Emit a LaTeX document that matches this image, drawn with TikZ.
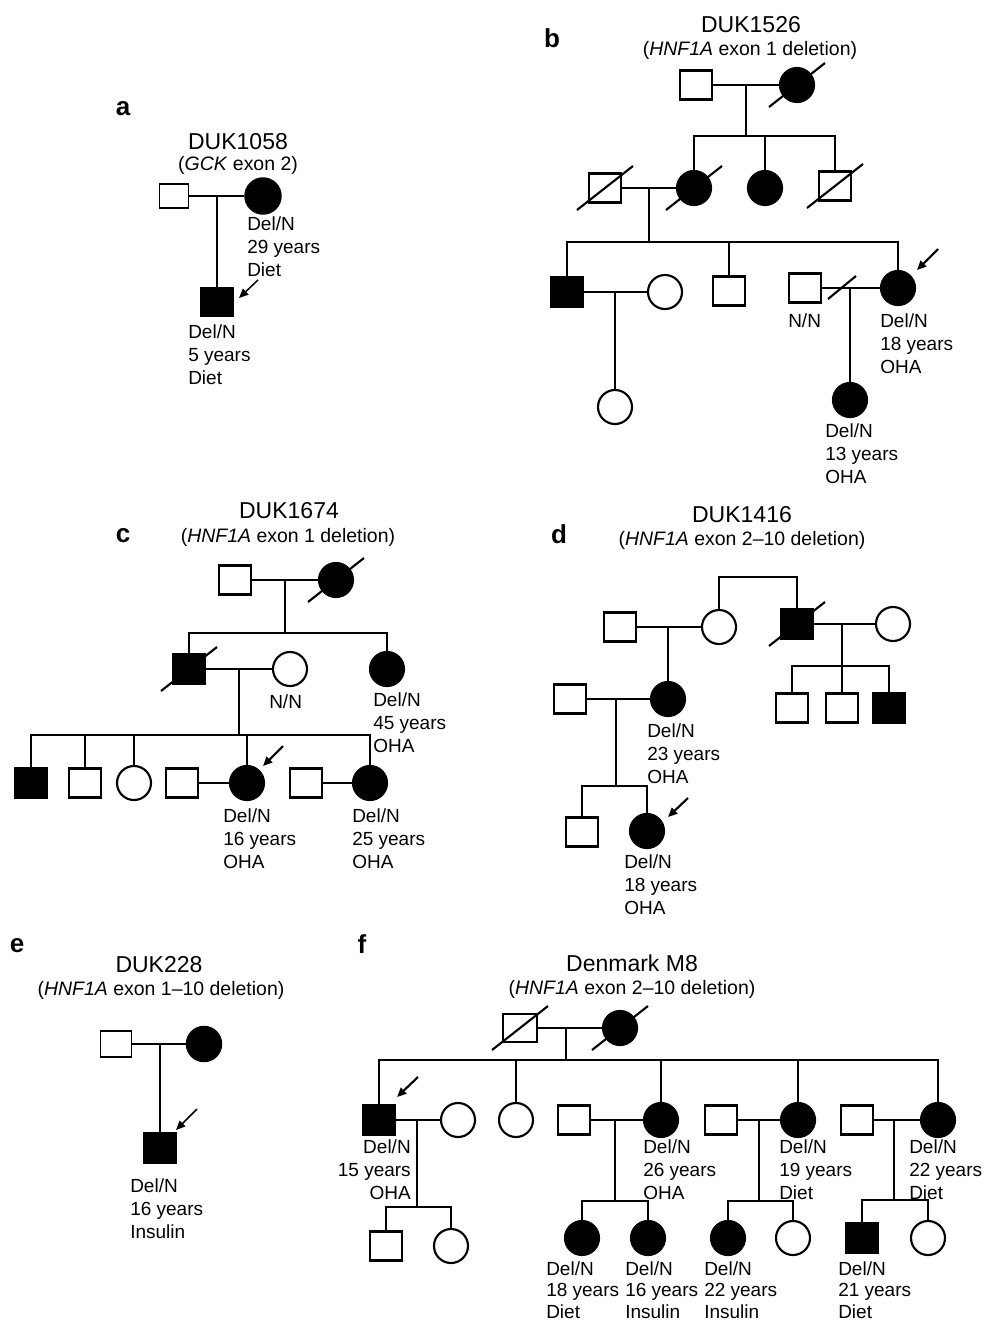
\documentclass[tikz,border=0pt]{standalone}
\usepackage{fontspec}
\setmainfont{Liberation Sans}
\usetikzlibrary{arrows.meta}
\newcommand\labfont{\fontsize{14.25pt}{17.25pt}\selectfont}
\newcommand\labfontB{\fontsize{14.25pt}{16.2pt}\selectfont}
\newcommand\ttlfont{\fontsize{17.25pt}{20pt}\selectfont}
\newcommand\subfont{\fontsize{14.6pt}{17pt}\selectfont}
\newcommand\letfont{\fontsize{19.5pt}{22pt}\selectfont\bfseries}
\newcommand\deceased[1]{\draw ([shift={(-28,22)}]#1.center) -- ([shift={(28,-22)}]#1.center);}
\tikzset{
  sq/.style={draw, rectangle, fill=white, minimum width=24pt, minimum height=21.75pt, inner sep=0pt},
  sqA/.style={sq, fill=black},
  ci/.style={draw, circle, fill=white, minimum size=25.5pt, inner sep=0pt},
  ciA/.style={ci, fill=black},
  lab/.style={font=\labfont, align=left, anchor=north west, inner sep=0pt},
  labB/.style={lab, font=\labfontB},
  labR/.style={lab, align=right, anchor=north east},
  ttl/.style={font=\ttlfont, anchor=base, inner sep=0pt},
  subt/.style={font=\subfont, anchor=base, inner sep=0pt},
  pletter/.style={font=\letfont, anchor=base, inner sep=0pt},
  prob/.style={-{Triangle[length=7pt 0 0,width=6pt 0 0]}},
  thickped/.style={line width=1.6pt},
  thinped/.style={line width=1.1pt}
}
\begin{document}
\begin{tikzpicture}[x=0.75pt,y=-0.75pt]
\useasboundingbox (0,0) rectangle (992,1322);

% ---------------- panel a ----------------
\node[pletter] (aL) at (123,115) {a};
\node[ttl] (aT) at (238,149) {DUK1058};
\node[subt] (aS) at (238,170) {(\textit{GCK} exon 2)};
\begin{scope}[thinped]
\node[sq, minimum width=21.75pt, minimum height=18pt] (aF) at (174,196) {};
\node[ciA, minimum size=27pt] (aM) at (263,196) {};
\node[sqA, minimum width=24.75pt, minimum height=21pt] (aC) at (217,302) {};
\coordinate (am) at (217,196);
\draw (aF.east) -- (aM.west);
\draw (am) -- (aC.north);
\coordinate (aP1) at (258,280);
\coordinate (aP2) at (239,298);
\draw[prob] (aP1) -- (aP2);
\end{scope}
\node[lab] (aML) at (247,216) {Del/N\\29 years\\Diet};
\node[lab] (aCL) at (188,324) {Del/N\\5 years\\Diet};

% ---------------- panel b ----------------
\node[pletter] (bL) at (552,47) {b};
\node[ttl] (bT) at (751,32) {DUK1526};
\node[subt] (bS) at (750,55) {(\textit{HNF1A} exon 1 deletion)};
\begin{scope}[thickped]
\node[sq] (bGF) at (696,85) {};
\node[ciA] (bGM) at (797,85) {};
\coordinate (bm1) at (746,85);
\coordinate (bs1) at (746,136);
\draw (bGF.east) -- (bGM.west);
\draw (bm1) -- (bs1);
\node[ciA] (bA) at (694,188) {};
\node[ciA] (bB) at (765,188) {};
\node[sq] (bC) at (835,186) {};
\draw (bA.north) |- (bs1) -| (bC.north);
\draw (bB.north) -- (bB.north |- bs1);
\node[sq] (bH) at (605,188) {};
\draw (bH.east) -- (bA.west);
\coordinate (bm2) at (649,188);
\coordinate (bs2) at (649,242);
\draw (bm2) -- (bs2);
\deceased{bGM}
\deceased{bA}
\deceased{bC}
\deceased{bH}
\node[sqA] (bD) at (567,292) {};
\node[ci] (bDW) at (665,292) {};
\node[sq] (bE) at (729,291) {};
\node[sq] (bFH) at (805,288) {};
\node[ciA] (bF) at (898,288) {};
\draw (bD.north) |- (bs2) -| (bF.north);
\draw (bE.north) -- (bE.north |- bs2);
\draw (bD.east) -- (bDW.west);
\coordinate (bm3) at (615,292);
\node[ci] (bDC) at (615,407) {};
\draw (bm3) -- (bDC.north);
\draw (bFH.east) -- (bF.west);
\coordinate (bm4) at (850,288);
\node[ciA] (bFC) at (850,400) {};
\draw (bm4) -- (bFC.north);
\coordinate (bdv1) at (828,299);
\coordinate (bdv2) at (856,276);
\draw (bdv1) -- (bdv2);
\coordinate (bP1) at (938,249);
\coordinate (bP2) at (917,270);
\draw[prob] (bP1) -- (bP2);
\end{scope}
\node[lab] (bFHL) at (788,313) {N/N};
\node[lab] (bFL) at (880,313) {Del/N\\18 years\\OHA};
\node[lab] (bFCL) at (825,423) {Del/N\\13 years\\OHA};

% ---------------- panel c ----------------
\node[pletter] (cL) at (123,542) {c};
\node[ttl] (cT) at (289,518) {DUK1674};
\node[subt] (cS) at (288,542) {(\textit{HNF1A} exon 1 deletion)};
\begin{scope}[thickped]
\node[sq] (cGF) at (235,580) {};
\node[ciA] (cGM) at (336,580) {};
\draw (cGF.east) -- (cGM.west);
\coordinate (cm1) at (285,580);
\coordinate (cs1) at (285,633);
\draw (cm1) -- (cs1);
\node[sqA] (cA) at (189,669) {};
\node[ci] (cAW) at (290,669) {};
\node[ciA] (cB) at (387,669) {};
\draw (cA.north) |- (cs1) -| (cB.north);
\draw (cA.east) -- (cAW.west);
\coordinate (cm2) at (239,669);
\coordinate (cs2) at (239,735);
\draw (cm2) -- (cs2);
\deceased{cGM}
\deceased{cA}
\node[sqA] (c1) at (31,783) {};
\node[sq] (c2) at (85,783) {};
\node[ci] (c3) at (134,783) {};
\node[sq] (c4H) at (182,783) {};
\node[ciA] (c4) at (247,783) {};
\node[sq] (c5H) at (306,783) {};
\node[ciA] (c5) at (370,783) {};
\draw (c1.north) |- (cs2) -| (c5.north);
\draw (c2.north) -- (c2.north |- cs2);
\draw (c3.north) -- (c3.north |- cs2);
\draw (c4.north) -- (c4.north |- cs2);
\draw (c4H.east) -- (c4.west);
\draw (c5H.east) -- (c5.west);
\coordinate (cP1) at (283,746);
\coordinate (cP2) at (263,766);
\draw[prob] (cP1) -- (cP2);
\end{scope}
\node[lab] (cAWL) at (269,694) {N/N};
\node[lab] (cBL) at (373,692) {Del/N\\45 years\\OHA};
\node[lab] (c4L) at (223,808) {Del/N\\16 years\\OHA};
\node[lab] (c5L) at (352,808) {Del/N\\25 years\\OHA};

% ---------------- panel d ----------------
\node[pletter] (dL) at (559,543) {d};
\node[ttl] (dT) at (742,522) {DUK1416};
\node[subt] (dS) at (742,545) {(\textit{HNF1A} exon 2–10 deletion)};
\begin{scope}[thickped]
\node[sq] (dGF) at (620,627) {};
\node[ci] (dGM) at (719,627) {};
\draw (dGF.east) -- (dGM.west);
\coordinate (dm1) at (668,627);
\node[ciA] (dA) at (668,699) {};
\draw (dm1) -- (dA.north);
\node[sqA] (dU) at (797,624) {};
\node[ci] (dUW) at (893,624) {};
\draw (dU.east) -- (dUW.west);
\draw (dGM.north) -- ++(0,-32) -| (dU.north);
\deceased{dU}
\coordinate (dm2) at (842,624);
\coordinate (ds2) at (842,666);
\draw (dm2) -- (ds2);
\node[sq] (dU1) at (792,708) {};
\node[sq] (dU2) at (842,708) {};
\node[sqA] (dU3) at (889,708) {};
\draw (dU1.north) |- (ds2) -| (dU3.north);
\draw (ds2) -- (dU2.north);
\node[sq] (dAH) at (570,699) {};
\draw (dAH.east) -- (dA.west);
\coordinate (dm3) at (616,699);
\coordinate (ds3) at (616,786);
\draw (dm3) -- (ds3);
\node[sq] (dC1) at (582,832) {};
\node[ciA] (dC2) at (647,831) {};
\draw (dC1.north) |- (ds3) -| (dC2.north);
\coordinate (dP1) at (688,798);
\coordinate (dP2) at (668,817);
\draw[prob] (dP1) -- (dP2);
\end{scope}
\node[lab] (dAL) at (647,723) {Del/N\\23 years\\OHA};
\node[lab] (dC2L) at (624,854) {Del/N\\18 years\\OHA};

% ---------------- panel e ----------------
\node[pletter] (eL) at (17,952) {e};
\node[ttl] (eT) at (159,972) {DUK228};
\node[subt] (eS) at (161,995) {(\textit{HNF1A} exon 1–10 deletion)};
\begin{scope}[thinped]
\node[sq, minimum width=23.25pt, minimum height=19.5pt] (eF) at (116,1044) {};
\node[ciA, minimum size=26.25pt] (eM) at (204,1044) {};
\draw (eF.east) -- (eM.west);
\coordinate (em) at (160,1044);
\node[sqA, minimum width=24.75pt, minimum height=22.5pt] (eC) at (160,1148) {};
\draw (em) -- (eC.north);
\coordinate (eP1) at (197,1109);
\coordinate (eP2) at (176,1130);
\draw[prob] (eP1) -- (eP2);
\end{scope}
\node[lab] (eCL) at (130,1178) {Del/N\\16 years\\Insulin};

% ---------------- panel f ----------------
\node[pletter] (fL) at (362,953) {f};
\node[ttl] (fT) at (632,971) {Denmark M8};
\node[subt] (fS) at (632,994) {(\textit{HNF1A} exon 2–10 deletion)};
\begin{scope}[thickped]
\node[sq, minimum width=25.5pt, minimum height=21pt] (fGF) at (520,1028) {};
\node[ciA] (fGM) at (620,1028) {};
\draw (fGF.east) -- (fGM.west);
\coordinate (fm1) at (566,1028);
\coordinate (fs1) at (566,1060);
\draw (fm1) -- (fs1);
\deceased{fGF}
\deceased{fGM}
\node[sqA] (f1) at (379,1120) {};
\node[ci] (f1W) at (458,1120) {};
\node[ci] (f2) at (516,1120) {};
\node[sq] (f3H) at (574,1120) {};
\node[ciA] (f3) at (661,1120) {};
\node[sq] (f4H) at (721,1120) {};
\node[ciA] (f4) at (798,1120) {};
\node[sq] (f5H) at (857,1120) {};
\node[ciA] (f5) at (938,1120) {};
\draw (f1.north) |- (fs1) -| (f5.north);
\draw (f2.north) -- (f2.north |- fs1);
\draw (f3.north) -- (f3.north |- fs1);
\draw (f4.north) -- (f4.north |- fs1);
\draw (f1.east) -- (f1W.west);
\draw (f3H.east) -- (f3.west);
\draw (f4H.east) -- (f4.west);
\draw (f5H.east) -- (f5.west);
% children of f1
\coordinate (fm2) at (417,1120);
\coordinate (fs2) at (417,1207);
\draw (fm2) -- (fs2);
\node[sq] (f1a) at (386,1246) {};
\node[ci] (f1b) at (451,1246) {};
\draw (f1a.north) |- (fs2) -| (f1b.north);
% children of f3
\coordinate (fm3) at (615,1120);
\coordinate (fs3) at (615,1201);
\draw (fm3) -- (fs3);
\node[ciA] (f3a) at (582,1238) {};
\node[ciA] (f3b) at (648,1238) {};
\draw (f3a.north) |- (fs3) -| (f3b.north);
% children of f4
\coordinate (fm4) at (759,1120);
\coordinate (fs4) at (759,1201);
\draw (fm4) -- (fs4);
\node[ciA] (f4a) at (728,1238) {};
\node[ci] (f4b) at (793,1238) {};
\draw (f4a.north) |- (fs4) -| (f4b.north);
% children of f5
\coordinate (fm5) at (894,1120);
\coordinate (fs5) at (894,1200);
\draw (fm5) -- (fs5);
\node[sqA] (f5a) at (862,1238) {};
\node[ci] (f5b) at (928,1238) {};
\draw (f5a.north) |- (fs5) -| (f5b.north);
\coordinate (fP1) at (418,1077);
\coordinate (fP2) at (397,1097);
\draw[prob] (fP1) -- (fP2);
\end{scope}
\node[labR] (f1L) at (411,1139) {Del/N\\15 years\\OHA};
\node[lab] (f3L) at (643,1139) {Del/N\\26 years\\OHA};
\node[lab] (f4L) at (779,1139) {Del/N\\19 years\\Diet};
\node[lab] (f5L) at (909,1139) {Del/N\\22 years\\Diet};
\node[labB] (f3aL) at (546,1261) {Del/N\\18 years\\Diet};
\node[labB] (f3bL) at (625,1261) {Del/N\\16 years\\Insulin};
\node[labB] (f4aL) at (704,1261) {Del/N\\22 years\\Insulin};
\node[labB] (f5aL) at (838,1261) {Del/N\\21 years\\Diet};
\end{tikzpicture}
\end{document}
